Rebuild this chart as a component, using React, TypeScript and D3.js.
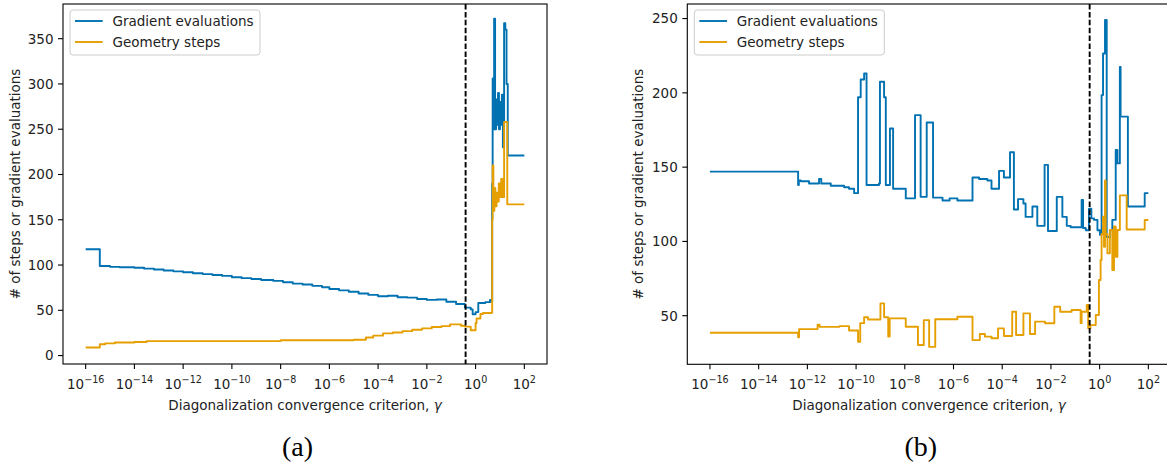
import React from "react";
import * as d3 from "d3";

// Data: [log10(gamma), value]
const gradA: [number, number][] = [
  [-16, 117.5], [-15.42, 99], [-15.0, 98], [-14.6, 97.5], [-14.0, 97], [-13.6, 96], [-13.2, 95],
  [-12.8, 94], [-12.4, 93], [-12.0, 92], [-11.6, 91], [-11.2, 90], [-10.8, 89], [-10.4, 88],
  [-10.0, 86.5], [-9.6, 85.5], [-9.2, 84.5], [-8.8, 83.5], [-8.3, 82.5], [-7.9, 81], [-7.5, 79.5],
  [-7.1, 78.5], [-6.7, 77], [-6.3, 75.5], [-6.0, 73.5], [-5.6, 72], [-5.2, 70.5], [-4.8, 68.5],
  [-4.4, 67], [-4.0, 65.5], [-3.6, 66], [-3.2, 64.5], [-2.8, 64], [-2.4, 62.5], [-2.0, 61.5],
  [-1.6, 62], [-1.2, 59.5], [-0.8, 57], [-0.44, 53], [-0.2, 51], [-0.12, 45.7], [0.0, 48],
  [0.11, 58], [0.4, 59], [0.59, 61.5], [0.66, 60], [0.68, 190], [0.7, 306], [0.73, 250],
  [0.76, 372], [0.8, 250], [0.84, 283], [0.88, 255], [0.92, 290], [0.96, 250], [1.0, 280],
  [1.04, 255], [1.08, 288], [1.12, 230], [1.17, 367], [1.22, 360], [1.27, 300], [1.32, 221], [2.0, 221],
];

const geomA: [number, number][] = [
  [-16, 9], [-15.42, 12.5], [-15.2, 13.5], [-14.8, 14.5], [-14.0, 15], [-13.5, 16], [-8.0, 17],
  [-5.0, 17.5], [-4.5, 20], [-4.2, 22], [-3.8, 24.5], [-3.4, 25.5], [-3.0, 27], [-2.6, 28.5],
  [-2.2, 30], [-1.8, 31.5], [-1.4, 32.5], [-1.05, 34.5], [-0.6, 33], [-0.44, 32], [-0.2, 28],
  [0.0, 36], [0.04, 41], [0.2, 46], [0.3, 47], [0.66, 47.5], [0.68, 150], [0.7, 210], [0.73, 160],
  [0.77, 185], [0.81, 165], [0.86, 180], [0.9, 170], [0.95, 190], [1.0, 175], [1.05, 195],
  [1.1, 175], [1.17, 258], [1.3, 167], [2.0, 167],
];

const gradB: [number, number][] = [
  [-16, 147], [-12.38, 138], [-12.35, 141], [-12.27, 140.5], [-11.93, 139], [-11.52, 142],
  [-11.43, 139], [-11.04, 137.5], [-10.49, 136.5], [-10.29, 135.5], [-10.08, 132.5], [-9.92, 197],
  [-9.81, 209], [-9.67, 213], [-9.57, 138], [-9.06, 139], [-9.02, 207.5], [-8.85, 197], [-8.78, 138],
  [-8.61, 176], [-8.48, 135.5], [-7.96, 129], [-7.58, 185], [-7.35, 130], [-7.1, 180], [-6.84, 129.5],
  [-6.45, 127.5], [-6.16, 129], [-5.84, 127.5], [-5.22, 143], [-4.95, 142], [-4.61, 141],
  [-4.44, 135.5], [-4.13, 147.5], [-3.93, 143], [-3.68, 160], [-3.52, 121.5], [-3.35, 128.5],
  [-3.13, 125.5], [-3.04, 116.5], [-2.76, 123.5], [-2.56, 110.5], [-2.26, 151.5], [-2.12, 107],
  [-1.76, 130], [-1.53, 116.5], [-1.35, 110.5], [-1.19, 109.5], [-0.74, 128], [-0.68, 109],
  [-0.57, 107.5], [-0.44, 122], [-0.34, 115.5], [-0.23, 114.5], [-0.09, 107.5], [0.01, 104.5],
  [0.08, 198.5], [0.14, 226.5], [0.22, 249], [0.29, 103], [0.42, 107.5], [0.52, 114.5],
  [0.66, 161.5], [0.73, 152.5], [0.83, 217.5], [0.86, 184], [1.16, 123.5], [1.85, 132.5], [2.0, 132.5],
];

const geomB: [number, number][] = [
  [-16, 38.5], [-12.38, 35.5], [-12.34, 41], [-11.58, 44], [-11.5, 42.5], [-10.68, 43],
  [-10.29, 40], [-9.92, 32.5], [-9.83, 45], [-9.67, 49], [-9.51, 47.5], [-9.0, 58.3], [-8.85, 49],
  [-8.68, 36], [-8.62, 48.2], [-7.96, 42.6], [-7.46, 30.3], [-7.22, 47], [-7.0, 29], [-6.75, 47.6],
  [-5.84, 49.3], [-5.22, 33.6], [-4.92, 37.7], [-4.71, 35.9], [-4.44, 34.8], [-4.17, 41.5],
  [-3.93, 36.3], [-3.59, 52.7], [-3.43, 37], [-3.13, 51.6], [-2.86, 37.7], [-2.65, 46],
  [-2.24, 44.9], [-1.86, 56], [-1.62, 52.7], [-1.15, 53.8], [-0.78, 45], [-0.74, 52.7],
  [-0.53, 57.2], [-0.47, 41.5], [-0.38, 43.7], [-0.16, 50.5], [-0.03, 74], [0.04, 87.5],
  [0.08, 105], [0.14, 116.6], [0.18, 96.4], [0.22, 141], [0.25, 105], [0.32, 92], [0.42, 107.7],
  [0.52, 80.8], [0.59, 110], [0.66, 89.7], [0.73, 107.7], [0.83, 131], [1.11, 108], [1.85, 114.4],
  [2.0, 114.4],
];

const xTickExps = [-16, -14, -12, -10, -8, -6, -4, -2, 0, 2];
const yTicksA = [0, 50, 100, 150, 200, 250, 300, 350];
const yTicksB = [50, 100, 150, 200, 250];
const gammaCutExp = -0.41;
const seriesNames = ["Gradient evaluations", "Geometry steps"];
const colors = ["#0072B2", "#E69F00"];

const FONT = "DejaVu Sans, sans-serif";
const FS = 13.5;

type PanelProps = {
  id: string;
  x0: number; x1: number; y0: number; y1: number;
  xLabelCenter: number;
  yDomain: [number, number];
  yTicks: number[];
  grad: [number, number][];
  geom: [number, number][];
  legendX: number;
  ylabelX: number;
  caption: string;
  captionX: number;
};

function Panel(p: PanelProps) {
  const xs = d3.scaleLog().domain([Math.pow(10, -16.93), Math.pow(10, 2.93)]).range([p.x0, p.x1]);
  const ys = d3.scaleLinear().domain(p.yDomain).range([p.y1, p.y0]);
  const line = d3
    .line<[number, number]>()
    .x((d) => xs(Math.pow(10, d[0])))
    .y((d) => ys(d[1]))
    .curve(d3.curveStepAfter);
  const cx = xs(Math.pow(10, gammaCutExp));
  const lx = p.legendX;
  return (
    <g>
      <defs>
        <clipPath id={`clip-${p.id}`}>
          <rect x={p.x0} y={p.y0} width={p.x1 - p.x0} height={p.y1 - p.y0} />
        </clipPath>
      </defs>
      <g clipPath={`url(#clip-${p.id})`}>
        <path d={line(p.grad) || ""} fill="none" stroke={colors[0]} strokeWidth={1.9} strokeLinejoin="round" />
        <path d={line(p.geom) || ""} fill="none" stroke={colors[1]} strokeWidth={1.9} strokeLinejoin="round" />
        <line x1={cx} x2={cx} y1={p.y0} y2={p.y1} stroke="#000" strokeWidth={1.9} strokeDasharray="5.5,2.4" />
      </g>
      <rect x={p.x0} y={p.y0} width={p.x1 - p.x0} height={p.y1 - p.y0} fill="none" stroke="#000" strokeWidth={1.1} />
      {p.yTicks.map((t) => (
        <g key={`y${t}`}>
          <line x1={p.x0 - 5} x2={p.x0} y1={ys(t)} y2={ys(t)} stroke="#000" strokeWidth={1.1} />
          <text x={p.x0 - 9.5} y={ys(t) + 4.9} textAnchor="end" fontFamily={FONT} fontSize={FS} fill="#222">
            {t}
          </text>
        </g>
      ))}
      {xTickExps.map((e) => {
        const x = xs(Math.pow(10, e));
        return (
          <g key={`x${e}`}>
            <line x1={x} x2={x} y1={p.y1} y2={p.y1 + 5} stroke="#000" strokeWidth={1.1} />
            <text x={x} y={389} textAnchor="middle" fontFamily={FONT} fontSize={FS} fill="#222">
              10
              <tspan dy={-5.8} fontSize={9.6}>
                {e < 0 ? `\u2212${-e}` : `${e}`}
              </tspan>
            </text>
          </g>
        );
      })}
      <text x={p.xLabelCenter} y={409.5} textAnchor="middle" fontFamily={FONT} fontSize={FS} fill="#222">
        Diagonalization convergence criterion,{" "}
        <tspan fontStyle="italic">γ</tspan>
      </text>
      <text
        transform={`translate(${p.ylabelX},${(p.y0 + p.y1) / 2}) rotate(-90)`}
        textAnchor="middle"
        fontFamily={FONT}
        fontSize={FS}
        fill="#222"
      >
        # of steps or gradient evaluations
      </text>
      <rect x={lx} y={10} width={190} height={45} rx={3} fill="#fff" fillOpacity={0.8} stroke="#ccc" strokeWidth={1} />
      {seriesNames.map((n, i) => (
        <g key={n}>
          <line x1={lx + 5} x2={lx + 32.7} y1={21 + i * 21} y2={21 + i * 21} stroke={colors[i]} strokeWidth={1.9} />
          <text x={lx + 42.5} y={25.6 + i * 21} fontFamily={FONT} fontSize={FS} fill="#222">
            {n}
          </text>
        </g>
      ))}
      <text x={p.captionX} y={456} textAnchor="middle" fontFamily="Liberation Serif, serif" fontSize={28} fill="#000">
        {p.caption}
      </text>
    </g>
  );
}

export default function App() {
  return (
    <svg
      width={1167}
      height={468}
      style={{ position: "fixed", left: 0, top: 0, background: "#fff" }}
      xmlns="http://www.w3.org/2000/svg"
    >
      <rect x={0} y={0} width={1167} height={468} fill="#fff" />
      <Panel
        id="a"
        x0={63} x1={547} y0={4} y1={364}
        xLabelCenter={305}
        yDomain={[-9.3, 388.3]}
        yTicks={yTicksA}
        grad={gradA}
        geom={geomA}
        legendX={70}
        ylabelX={19.5}
        caption="(a)"
        captionX={297.5}
      />
      <Panel
        id="b"
        x0={687.3} x1={1171} y0={4} y1={364.3}
        xLabelCenter={929}
        yDomain={[17.3, 259.8]}
        yTicks={yTicksB}
        grad={gradB}
        geom={geomB}
        legendX={694.3}
        ylabelX={643}
        caption="(b)"
        captionX={920.8}
      />
    </svg>
  );
}
